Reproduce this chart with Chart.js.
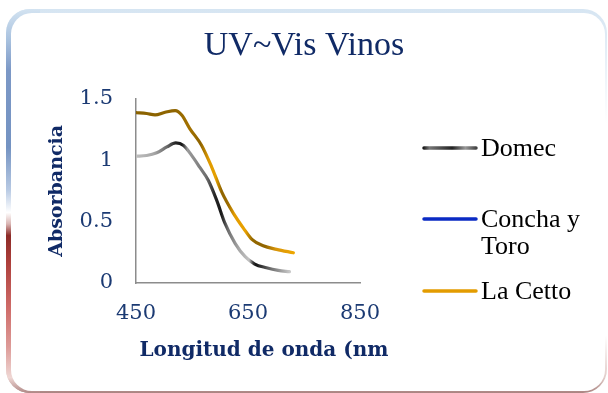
<!DOCTYPE html>
<html>
<head>
<meta charset="utf-8">
<script src="https://cdn.jsdelivr.net/npm/chart.js@4/dist/chart.umd.min.js"></script>
<style>
  html, body { margin: 0; padding: 0; background: #fff; }
  #wrap { position: relative; width: 608px; height: 393px; overflow: hidden; }
  .card {
    position: absolute; left: 6px; top: 9px; width: 601px; height: 384px;
    border-radius: 24px; overflow: hidden;
    background: linear-gradient(to bottom, #d6e5f2 0%, #e6eff7 12%, #ffffff 30%, #ffffff 85%, #e2cdca 96%, #a98380 100%);
  }
  .card .edge {
    position: absolute; left: 0; top: 0; bottom: 0; width: 34px;
    background: linear-gradient(to bottom, #d3e3f1 0%, #a9c2df 8%, #7c98c6 16%, #7493c2 36%, #b7c9e3 47%, #ffffff 53%, #d9b4b2 56%, #8c2b27 59%, #ad3f3b 66%, #cf6c69 78%, #dd9b98 88%, #efd7d4 96%, #b08886 100%);
  }
  .card .inner {
    position: absolute; left: 5px; top: 4px; right: 2px; bottom: 2px;
    border-radius: 21px; background: #fff;
  }
  canvas { position: absolute; left: 0; top: 0; }
</style>
</head>
<body>
<div id="wrap">
  <div class="card"><div class="edge"></div><div class="inner"></div></div>
  <canvas id="chart" width="608" height="393"></canvas>
</div>
<script>
// wavelength (nm) and absorbance for each wine
const domecNm = [450, 469, 487, 505, 521, 535, 549, 564, 579, 594, 609, 627, 645, 662, 683, 704, 724];
const domecAbs = [1.033, 1.038, 1.060, 1.108, 1.141, 1.119, 1.041, 0.941, 0.837, 0.675, 0.485, 0.323, 0.214, 0.154, 0.124, 0.103, 0.092];

const conchaNm = [];
const conchaAbs = [];

const cettoNm = [450, 469, 484, 502, 520, 532, 546, 567, 585, 603, 624, 642, 657, 677, 701, 731];
const cettoAbs = [1.388, 1.380, 1.369, 1.390, 1.404, 1.366, 1.258, 1.122, 0.946, 0.742, 0.567, 0.445, 0.355, 0.303, 0.274, 0.246];

const seriesNames = ["Domec", "Concha y Toro", "La Cetto"];
const xTicks = [450, 650, 850];
const yTicks = [0, 0.5, 1, 1.5];

const navy = "#102a66";
const tickBlue = "#1b3a73";

// color stops along the wavelength axis for the shaded lines
const domecShade = [
  [450, "#bebebe"], [482, "#a6a6a6"], [505, "#6a6a6a"], [520, "#262626"], [532, "#141414"],
  [542, "#9a9a9a"], [556, "#8a8a8a"], [575, "#6f6f6f"], [591, "#262626"], [602, "#181818"],
  [614, "#6e6e6e"], [634, "#a8a8a8"], [652, "#c2c2c2"], [659, "#3a3a3a"], [664, "#111111"],
  [690, "#6c6c6c"], [725, "#cacaca"]
];
const cettoShade = [
  [450, "#8a6200"], [520, "#8f6500"], [545, "#a47200"], [565, "#8d6300"], [580, "#df9a00"],
  [592, "#e6a100"], [603, "#8f6400"], [615, "#9c6c00"], [626, "#e39c00"], [645, "#e9a100"],
  [658, "#946800"], [680, "#8f6400"], [700, "#d8950a"], [735, "#f0a800"]
];

function shaded(stops) {
  return function(ctx) {
    const chart = ctx.chart;
    if (!chart.chartArea) return stops[0][1];
    const x = chart.scales.x;
    const x0 = x.getPixelForValue(stops[0][0]);
    const x1 = x.getPixelForValue(stops[stops.length - 1][0]);
    const g = chart.ctx.createLinearGradient(x0, 0, x1, 0);
    stops.forEach(function(s) {
      g.addColorStop((s[0] - stops[0][0]) / (stops[stops.length - 1][0] - stops[0][0]), s[1]);
    });
    return g;
  };
}

function toPoints(xs, ys) {
  return xs.map(function(v, i) { return { x: v, y: ys[i] }; });
}

// legend on the right, with the two-line label, plus the x axis title
const sideLegend = {
  id: "sideLegend",
  afterDraw(chart) {
    const c = chart.ctx;
    c.save();
    // line samples
    let g = c.createLinearGradient(423, 0, 476, 0);
    g.addColorStop(0, "#111"); g.addColorStop(0.12, "#777"); g.addColorStop(0.3, "#555");
    g.addColorStop(0.55, "#222"); g.addColorStop(0.8, "#999"); g.addColorStop(1, "#444");
    const samples = [
      { y: 148, color: g, lines: ["Domec"] },
      { y: 219, color: "#0a2ac4", lines: ["Concha y", "Toro"] },
      { y: 291, color: "#e39c00", lines: ["La Cetto"] }
    ];
    c.lineWidth = 3.5;
    c.lineCap = "round";
    samples.forEach(function(s) {
      c.strokeStyle = s.color;
      c.beginPath(); c.moveTo(424, s.y); c.lineTo(476, s.y); c.stroke();
      c.fillStyle = "#000";
      c.font = "26px 'Liberation Serif'";
      c.textBaseline = "middle";
      c.textAlign = "left";
      s.lines.forEach(function(t, i) { c.fillText(t, 481, s.y + 1 + i * 27); });
    });
    // x axis title
    c.fillStyle = navy;
    c.font = "bold 20px 'DejaVu Serif'";
    c.textAlign = "center";
    c.textBaseline = "alphabetic";
    c.fillText("Longitud de onda (nm", 264, 356);
    c.restore();
  }
};

new Chart(document.getElementById("chart"), {
  type: "line",
  data: {
    datasets: [
      { label: seriesNames[0], data: toPoints(domecNm, domecAbs), borderColor: shaded(domecShade), borderWidth: 3.2 },
      { label: seriesNames[1], data: toPoints(conchaNm, conchaAbs), borderColor: "#0a2ac4", borderWidth: 3.2 },
      { label: seriesNames[2], data: toPoints(cettoNm, cettoAbs), borderColor: shaded(cettoShade), borderWidth: 3.2 }
    ]
  },
  options: {
    responsive: false,
    devicePixelRatio: 1,
    animation: false,
    events: [],
    layout: { padding: 0 },
    elements: {
      point: { radius: 0 },
      line: { tension: 0.35, cubicInterpolationMode: "monotone", borderCapStyle: "round", borderJoinStyle: "round" }
    },
    plugins: {
      legend: { display: false },
      tooltip: { enabled: false },
      title: {
        display: true,
        text: "UV~Vis Vinos",
        color: navy,
        font: { family: "'Liberation Serif'", size: 34, weight: "normal", lineHeight: 1.2 },
        padding: { top: 26, bottom: 32 }
      }
    },
    scales: {
      x: {
        type: "linear",
        min: 450,
        max: 850,
        afterBuildTicks(scale) { scale.ticks = xTicks.map(function(v) { return { value: v }; }); },
        afterFit(scale) { scale.height = 110; },
        grid: { display: false, drawTicks: false },
        border: { display: true, color: "#8c8c8c", width: 1.5 },
        ticks: { color: tickBlue, padding: 18, maxRotation: 0, font: { family: "'DejaVu Serif'", size: 21 } }
      },
      y: {
        min: 0,
        max: 1.5,
        afterBuildTicks(scale) { scale.ticks = yTicks.map(function(v) { return { value: v }; }); },
        afterFit(scale) { scale.width = 136; },
        grid: { display: false, drawTicks: false },
        border: { display: true, color: "#8c8c8c", width: 1.5 },
        ticks: {
          color: tickBlue, padding: 23, font: { family: "'DejaVu Serif'", size: 21 },
          callback: function(v) { return String(v); }
        },
        title: {
          display: true,
          text: "Absorbancia",
          color: navy,
          font: { family: "'DejaVu Serif'", size: 19, weight: "bold" },
          padding: { top: 46, bottom: 0 }
        }
      },
      // empty right-hand axis that keeps room for the legend
      side: {
        position: "right",
        min: 0,
        max: 1,
        afterFit(scale) { scale.width = 248; },
        grid: { display: false, drawTicks: false },
        border: { display: false },
        ticks: { display: false }
      }
    }
  },
  plugins: [sideLegend]
});
</script>
</body>
</html>
